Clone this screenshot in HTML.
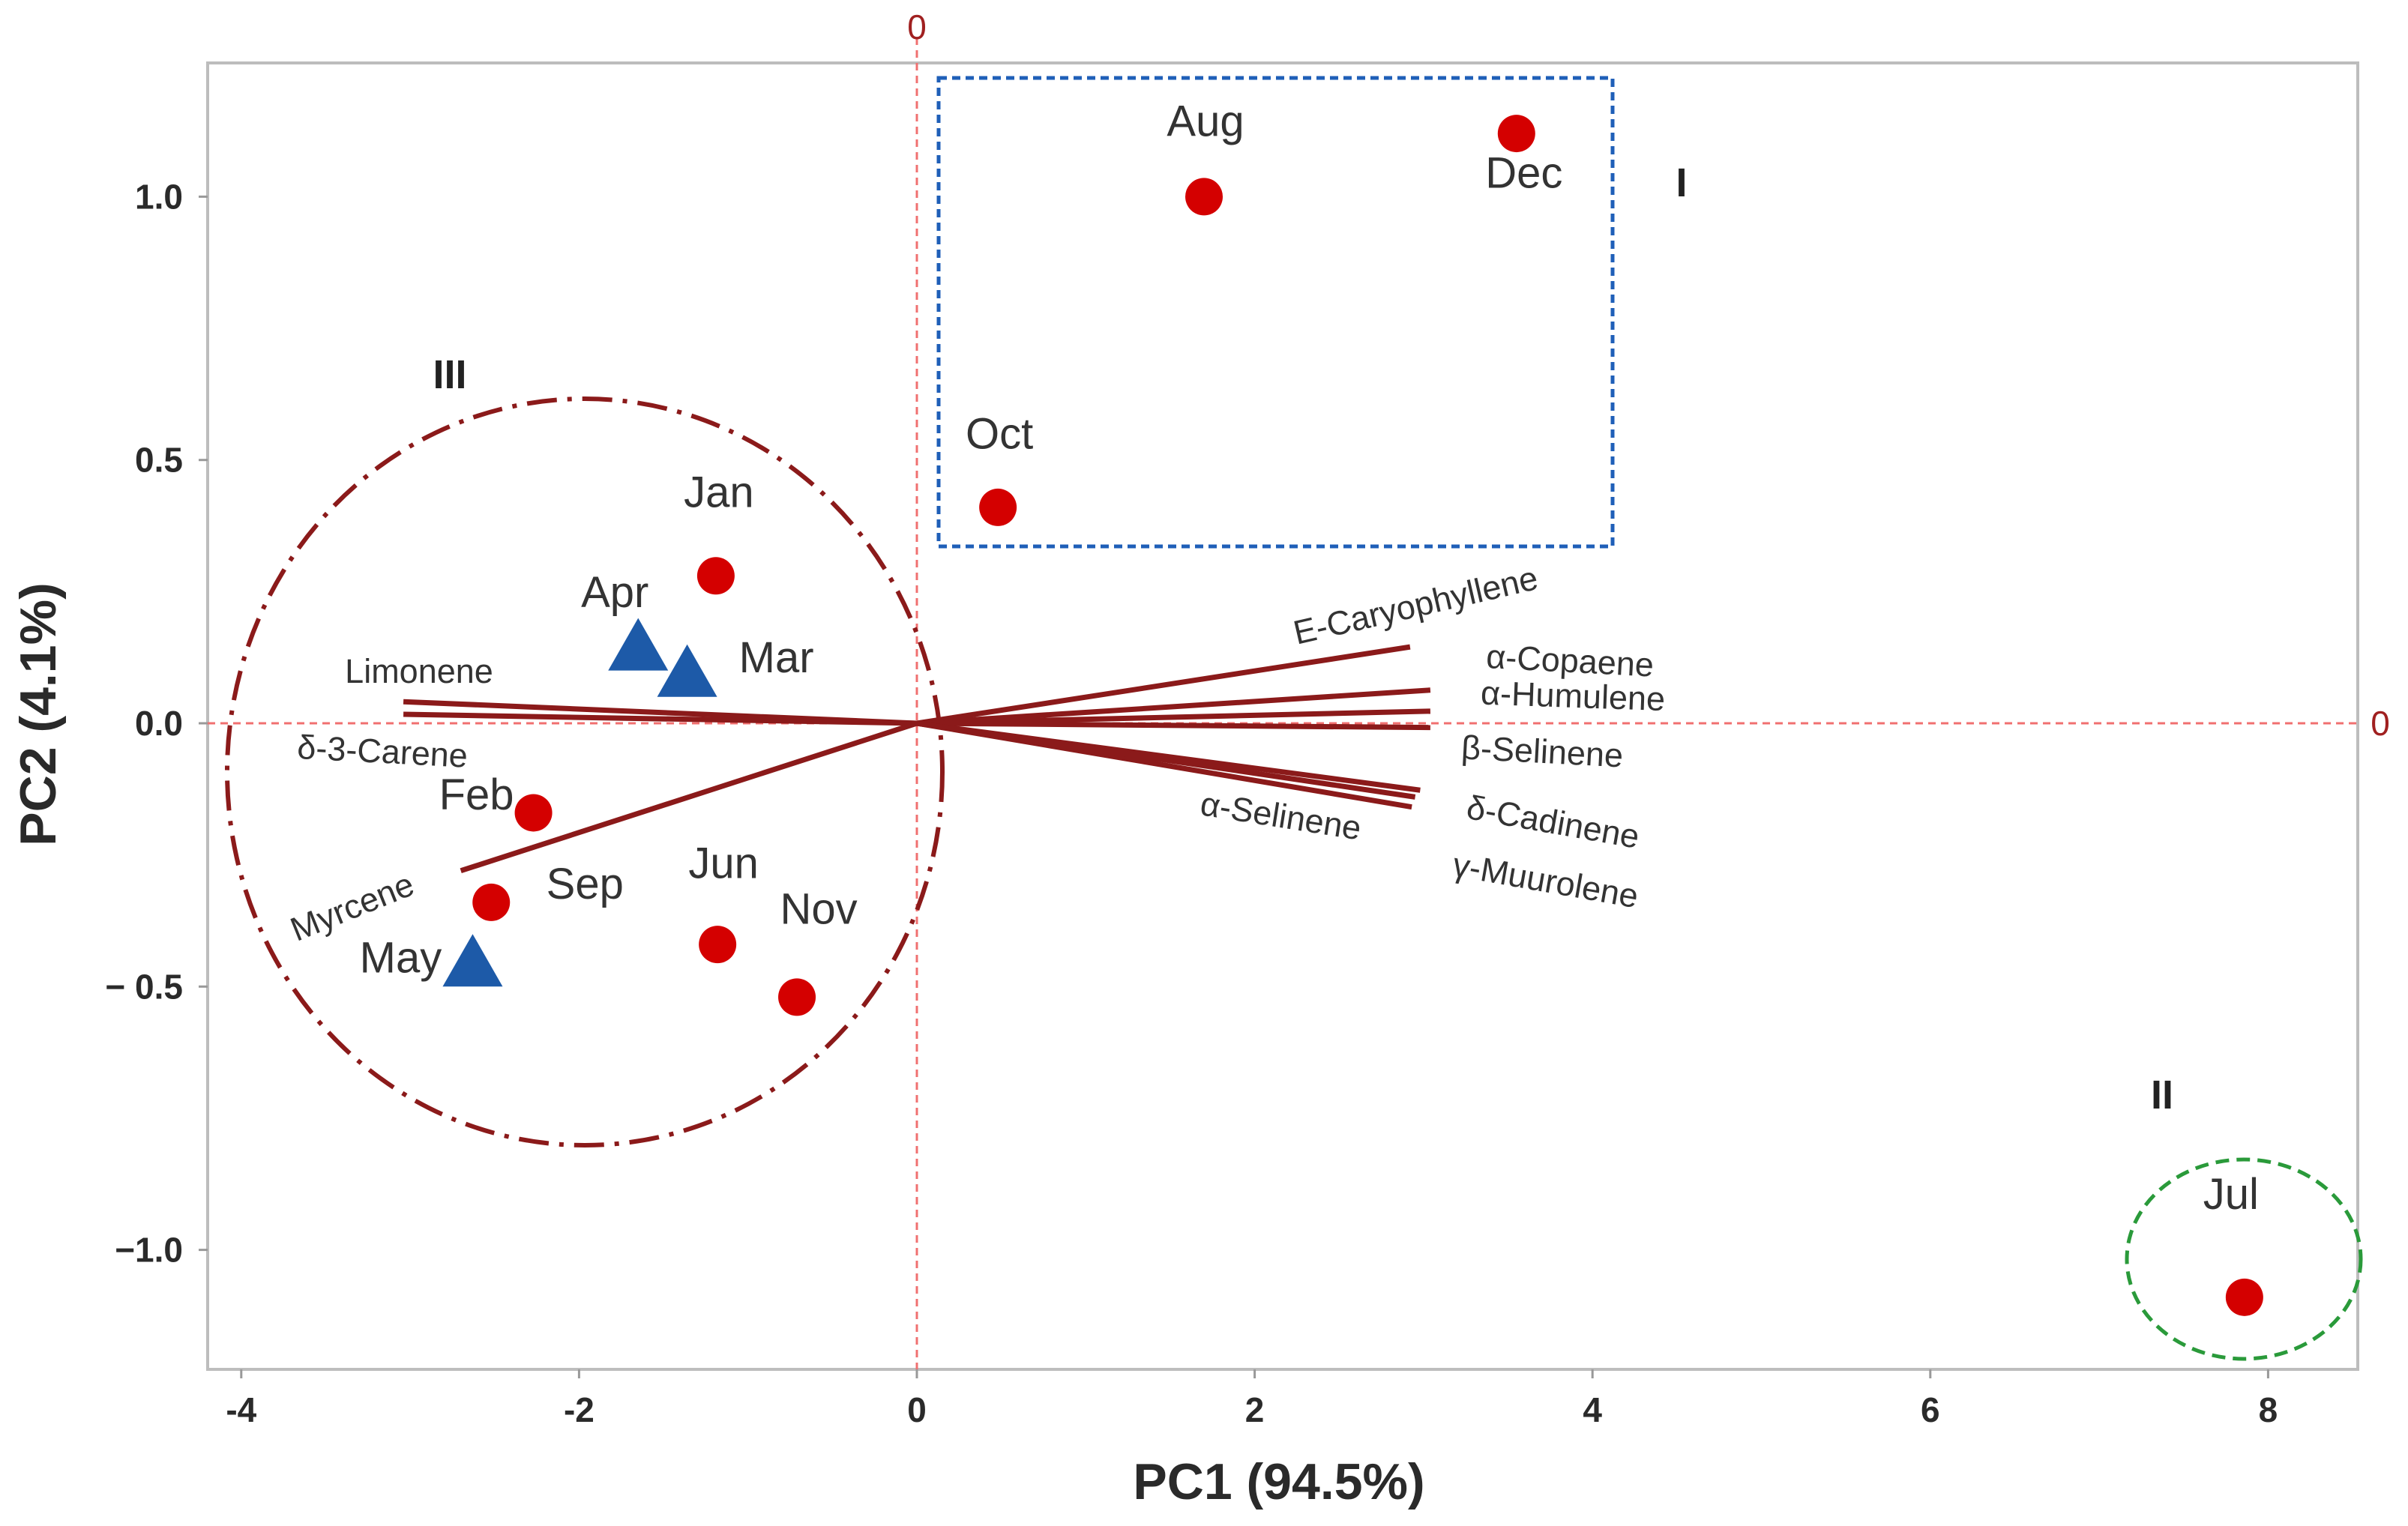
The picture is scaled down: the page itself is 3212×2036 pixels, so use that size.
<!DOCTYPE html>
<html><head><meta charset="utf-8"><style>
html,body{margin:0;padding:0;background:#fff;}
svg{display:block;font-family:"Liberation Sans",sans-serif;}
</style></head><body>
<svg id="chart" width="3212" height="2036" viewBox="0 0 3212 2036" xmlns="http://www.w3.org/2000/svg">
<rect x="277" y="84" width="2868" height="1743" fill="none" stroke="#bdbdbd" stroke-width="4"/>
<g id="axes"></g>
<g id="groups"></g>
<g id="loadings"></g>
<g id="points"></g>
<text x="1706" y="2000" font-size="68" font-weight="bold" text-anchor="middle" fill="#2a2a2a">PC1 (94.5%)</text>
<text transform="translate(74,953) rotate(-90)" font-size="68" font-weight="bold" text-anchor="middle" fill="#2a2a2a">PC2 (4.1%)</text>
<text x="2243" y="262" font-size="54" font-weight="bold" text-anchor="middle" fill="#222">I</text>
<text x="2884" y="1479" font-size="54" font-weight="bold" text-anchor="middle" fill="#222">II</text>
<text x="600" y="518" font-size="54" font-weight="bold" text-anchor="middle" fill="#222">III</text>
</svg>
<script>
const xTicks = [-4, -2, 0, 2, 4, 6, 8];
const yTicks = [-1.0, -0.5, 0.0, 0.5, 1.0];
const yTickLabels = ["\u22121.0", "\u2212 0.5", "0.0", "0.5", "1.0"];
const months = ["Aug","Dec","Oct","Jan","Apr","Mar","Feb","Sep","Jun","Nov","May","Jul"];
const pc1 = [1.70, 3.55, 0.48, -1.19, -1.65, -1.36, -2.27, -2.52, -1.18, -0.71, -2.63, 7.86];
const pc2 = [1.00, 1.12, 0.41, 0.28, 0.14, 0.09, -0.17, -0.34, -0.42, -0.52, -0.46, -1.09];
const shapes = ["c","c","c","c","t","t","c","c","c","c","t","c"];
const labelOffsets = [[2,-96],[10,57],[2,-94],[4,-107],[-31,-72],[119,-20],[-76,-20],[125,-20],[8,-104],[29,-113],[-96,-6],[-18,-133]];
const loadNames = ["E-Caryophyllene","\u03b1-Copaene","\u03b1-Humulene","\u03b2-Selinene","\u03b4-Cadinene","\u03b3-Muurolene","\u03b1-Selinene","Limonene","\u03b4-3-Carene","Myrcene"];
const loadX = [2.92, 3.04, 3.04, 3.04, 2.98, 2.93, 2.95, -3.04, -3.04, -2.70];
const loadY = [0.145, 0.063, 0.023, -0.008, -0.127, -0.159, -0.14, 0.041, 0.017, -0.28];
const loadLabelPos = [[1889,811,-13],[2094,885,3],[2098,932,2],[2057,1006,3],[2071,1100,10],[2061,1178,10],[1708,1092,9],[559,899,0],[510,1006,3],[471,1213,-22]];

const X0 = 1223, XS = 225.3, Y0 = 965, YS = 702.6;
const sx = v => X0 + v * XS;
const sy = v => Y0 - v * YS;
const NS = "http://www.w3.org/2000/svg";
function mk(tag, attrs, parent) {
  const e = document.createElementNS(NS, tag);
  for (const k in attrs) e.setAttribute(k, attrs[k]);
  parent.appendChild(e);
  return e;
}
const axes = document.getElementById('axes');
xTicks.forEach(t => {
  const tk = mk('line', {x1: sx(t), x2: sx(t), y1: 1827, y2: 1839, stroke: '#999', 'stroke-width': 3}, axes);
  
  
  const lb = mk('text', {x: sx(t), y: 1897, 'font-size': 46, 'font-weight': 'bold', 'text-anchor': 'middle', fill: '#2a2a2a'}, axes);
  lb.textContent = t;
  
  
});
yTicks.forEach((t, i) => {
  const tk = mk('line', {x1: 265, x2: 277, y1: sy(t), y2: sy(t), stroke: '#999', 'stroke-width': 3}, axes);
  
  
  const lb = mk('text', {x: 244, y: sy(t) + 16, 'font-size': 46, 'font-weight': 'bold', 'text-anchor': 'end', fill: '#2a2a2a'}, axes);
  lb.textContent = yTickLabels[i];
  
  
});
const vz = mk('line', {x1: sx(0), x2: sx(0), y1: 50, y2: 1827, stroke: '#f07070', 'stroke-width': 3, 'stroke-dasharray': '10 7'}, axes);


const hz = mk('line', {x1: 277, x2: 3150, y1: sy(0), y2: sy(0), stroke: '#f07070', 'stroke-width': 3, 'stroke-dasharray': '10 7'}, axes);


const z1 = mk('text', {x: sx(0), y: 52, 'font-size': 46, 'text-anchor': 'middle', fill: '#a02020'}, axes);
z1.textContent = '0';


const z2 = mk('text', {x: 3175, y: sy(0) + 16, 'font-size': 46, 'text-anchor': 'middle', fill: '#a02020'}, axes);
z2.textContent = '0';



const groups = document.getElementById('groups');
const g1 = mk('rect', {x: 1252, y: 104, width: 899, height: 625, fill: 'none', stroke: '#1f5fb8', 'stroke-width': 5, 'stroke-dasharray': '11 7'}, groups);


const g2 = mk('ellipse', {cx: 2993, cy: 1680, rx: 156, ry: 133, fill: 'none', stroke: '#2a9a3a', 'stroke-width': 5, 'stroke-dasharray': '18 10'}, groups);


const g3 = mk('ellipse', {cx: 780, cy: 1030, rx: 477, ry: 498, fill: 'none', stroke: '#8b1a1a', 'stroke-width': 6, 'stroke-dasharray': '40 14 6 14'}, groups);



const ld = document.getElementById('loadings');
loadNames.forEach((n, i) => {
  const l = mk('line', {x1: sx(0), y1: sy(0), x2: sx(loadX[i]), y2: sy(loadY[i]), stroke: '#8b1a1a', 'stroke-width': 7}, ld);
  
  
  const p = loadLabelPos[i];
  const t = mk('text', {transform: `translate(${p[0]},${p[1]}) rotate(${p[2]})`, 'font-size': 45, 'text-anchor': 'middle', 'dominant-baseline': 'middle', fill: '#333'}, ld);
  t.textContent = n;
  
  
});

const pts = document.getElementById('points');
months.forEach((m, i) => {
  const x = sx(pc1[i]), y = sy(pc2[i]);
  let mark;
  if (shapes[i] === 't') {
    mark = mk('polygon', {points: `${x},${y-42} ${x-40},${y+28} ${x+40},${y+28}`, fill: '#1d5aa8'}, pts);
  } else {
    mark = mk('circle', {cx: x, cy: y, r: 25, fill: '#d40000'}, pts);
  }
  
  
  const o = labelOffsets[i];
  const t = mk('text', {x: x + o[0], y: y + o[1], 'font-size': 58, 'text-anchor': 'middle', 'dominant-baseline': 'middle', fill: '#333'}, pts);
  t.textContent = m;
  
  
});
</script>
</body></html>
